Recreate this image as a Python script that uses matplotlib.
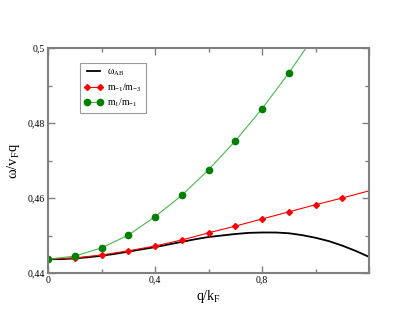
import matplotlib
matplotlib.use("Agg")
import matplotlib.pyplot as plt
from matplotlib.ticker import MultipleLocator, FuncFormatter

plt.rcParams["font.family"] = ["Liberation Serif", "DejaVu Serif"]
plt.rcParams["mathtext.fontset"] = "custom"
plt.rcParams["mathtext.rm"] = "Liberation Serif"
plt.rcParams["mathtext.it"] = "Liberation Serif"

# omega_AB (black curve), read every 0.05
q_ab = [0.0, 0.05, 0.1, 0.15, 0.2, 0.25, 0.3, 0.35, 0.4, 0.45, 0.5, 0.55, 0.6,
        0.65, 0.7, 0.75, 0.8, 0.85, 0.9, 0.95, 1.0, 1.05, 1.1, 1.15, 1.2]
w_ab = [0.4437, 0.4437, 0.4439, 0.4442, 0.4446, 0.4451, 0.4457, 0.4463,
        0.4469, 0.4476, 0.4483, 0.4490, 0.4496, 0.4500, 0.4504, 0.4507,
        0.4508, 0.4508, 0.4506, 0.4501, 0.4494, 0.4485, 0.4473, 0.4459, 0.4443]

# m_-1/m_-3 (red)
q_red = [0.0, 0.1, 0.2, 0.3, 0.4, 0.5, 0.6, 0.7, 0.8, 0.9, 1.0, 1.1, 1.2]
m_red = [0.4437, 0.4440, 0.4448, 0.4459, 0.4472, 0.4488, 0.4507, 0.4525,
         0.4544, 0.4563, 0.4582, 0.4600, 0.4619]

# m_1/m_-1 (green)
q_green = [0.0, 0.1, 0.2, 0.3, 0.4, 0.5, 0.6, 0.7, 0.8, 0.9, 1.0]
m_green = [0.4437, 0.4445, 0.4467, 0.4501, 0.4550, 0.4607, 0.4675, 0.4752,
           0.4838, 0.4933, 0.5037]

fig = plt.figure(figsize=(4.15, 3.21), dpi=100)
ax = fig.add_axes([48 / 415, 1 - 273 / 321, 321 / 415, 225 / 321])

ax.plot(q_ab, w_ab, color="black", lw=1.3, label=r"$\omega_{\rm AB}$")
ax.plot(q_red, m_red, color="red", lw=0.8, marker="D", ms=3.0,
        markevery=list(range(12)), label=r"m$_{-1}$/m$_{-3}$")
ax.plot(q_green, m_green, color="#4cb84c", lw=0.8, marker="o", ms=4.5,
        mfc="green", mec="green", markevery=list(range(10)),
        label=r"m$_{1}$/m$_{-1}$")

ax.set_xlim(0, 1.2)
ax.set_ylim(0.44, 0.5)
ax.xaxis.set_major_locator(MultipleLocator(0.4))
ax.xaxis.set_minor_locator(MultipleLocator(0.2))
ax.yaxis.set_major_locator(MultipleLocator(0.02))
ax.yaxis.set_minor_locator(MultipleLocator(0.01))


def comma(v, pos):
    s = "%g" % round(v, 4)
    return s.replace(".", ",")


ax.xaxis.set_major_formatter(FuncFormatter(lambda v, p: "" if v > 1.1 else comma(v, p)))
ax.yaxis.set_major_formatter(FuncFormatter(comma))

for s in ax.spines.values():
    s.set_color("#808080")
    s.set_linewidth(1.5)
ax.tick_params(which="both", direction="in", top=True, right=True,
               color="#808080", labelsize=7, pad=2)
ax.tick_params(which="major", length=5, width=1)
ax.tick_params(which="minor", length=3, width=1)

ax.set_xlabel(r"q/k$_{\rm F}$", fontsize=10, labelpad=2)
ax.set_ylabel(r"$\omega$/v$_{\rm F}$q", fontsize=10.5, labelpad=4)

leg = ax.legend(loc="upper left", bbox_to_anchor=(32 / 321, 1 - 15 / 225),
                borderaxespad=0, numpoints=2,
                fontsize=7, frameon=True, fancybox=False, borderpad=0.4,
                handlelength=2.0, labelspacing=0.3, handletextpad=0.4)
leg.get_frame().set_edgecolor("#808080")
leg.get_frame().set_linewidth(0.8)

fig.savefig("out.png", dpi=100)
